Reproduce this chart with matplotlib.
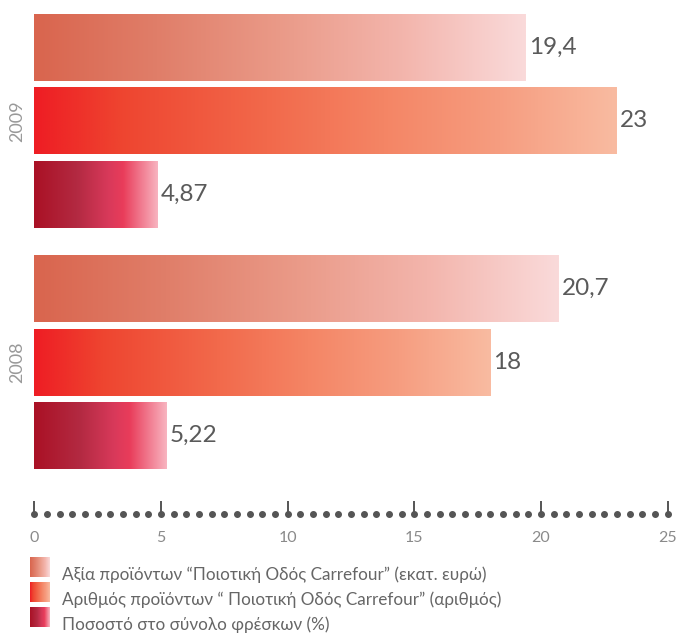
import matplotlib.pyplot as plt
import numpy as np
from matplotlib.colors import LinearSegmentedColormap

# data
years = ['2009', '2008']
series_labels = [
    'Αξία προϊόντων “Ποιοτική Οδός Carrefour” (εκατ. ευρώ)',
    'Αριθμός προϊόντων “ Ποιοτική Οδός Carrefour” (αριθμός)',
    'Ποσοστό στο σύνολο φρέσκων (%)',
]
values_2009 = [19.4, 23, 4.87]
values_2008 = [20.7, 18, 5.22]
value_labels_2009 = ['19,4', '23', '4,87']
value_labels_2008 = ['20,7', '18', '5,22']
xticks = [0, 5, 10, 15, 20, 25]

plt.rcParams['font.family'] = ['Lato', 'DejaVu Sans']

cmaps = [
    LinearSegmentedColormap.from_list('c1', [(0, '#D9654E'), (0.25, '#E07E69'), (0.5, '#EA9A88'),
                                             (0.75, '#F3B5AC'), (1, '#FADADA')]),
    LinearSegmentedColormap.from_list('c2', [(0, '#EE1D24'), (0.15, '#EE4530'), (0.4, '#F2694B'),
                                             (0.6, '#F48565'), (0.8, '#F69D80'), (1, '#F9BBA1')]),
    LinearSegmentedColormap.from_list('c3', [(0, '#AA1125'), (0.35, '#B32A42'), (0.6, '#D8395A'),
                                             (0.72, '#E93C5A'), (1, '#F8B4C0')]),
]

W, H = 677, 633
fig = plt.figure(figsize=(W / 100, H / 100), dpi=100)

def px_axes(x0, y0, x1, y1):
    # axes from pixel box (top-left origin)
    return fig.add_axes([x0 / W, 1 - y1 / H, (x1 - x0) / W, (y1 - y0) / H])

x_left, x_right = 34.3, 667.7
ax = px_axes(x_left, 14, x_right, 469)

group_offset = 3.29
bar_h = 0.91
grad = np.linspace(0, 1, 256).reshape(1, -1)

for g, (vals, labs) in enumerate([(values_2009, value_labels_2009), (values_2008, value_labels_2008)]):
    ypos = np.arange(3) + g * group_offset
    bars = ax.barh(ypos, vals, height=bar_h, color='none', edgecolor='none')
    for i, b in enumerate(bars):
        x0, y0, w, h = b.get_x(), b.get_y(), b.get_width(), b.get_height()
        im = ax.imshow(grad, extent=[x0, x0 + w, y0 + h, y0], aspect='auto',
                       cmap=cmaps[i], interpolation='bilinear')
        im.set_clip_path(b)
        ax.annotate(labs[i], (vals[i], ypos[i]), xytext=(2, 0), textcoords='offset points',
                    va='center', ha='left', fontsize=17.5, color='#5a5a5a')
    ax.text(-0.67, ypos[1], years[g], rotation=90, ha='center', va='center',
            fontsize=13, color='#999999')

ax.set_xlim(0, 25)
ax.set_ylim(2 + group_offset + bar_h / 2, -bar_h / 2)
ax.axis('off')

# dotted axis
ax2 = px_axes(x_left, 495, x_right, 548)
ax2.set_xlim(0, 25)
ax2.set_ylim(548, 495)
ax2.plot(np.arange(0, 25.01, 0.5), np.full(51, 514), 'o', ms=4, color='#555555', clip_on=False)
ax2.vlines(xticks, 501, 514, color='#555555', lw=1.4, clip_on=False)
for t in xticks:
    ax2.text(t, 538, str(t), ha='center', va='center', fontsize=11.5, color='#8a8a8a')
ax2.axis('off')

# legend
for i, lab in enumerate(series_labels):
    y0 = 557 + i * 25
    sw = px_axes(30, y0, 50, y0 + 20)
    sw.imshow(grad, aspect='auto', cmap=cmaps[i], interpolation='bilinear')
    sw.axis('off')
    fig.text(62 / W, 1 - (y0 + 18) / H, lab, ha='left', va='center', fontsize=12.3,
             color='#666666')

fig.savefig('out.png', dpi=100)
